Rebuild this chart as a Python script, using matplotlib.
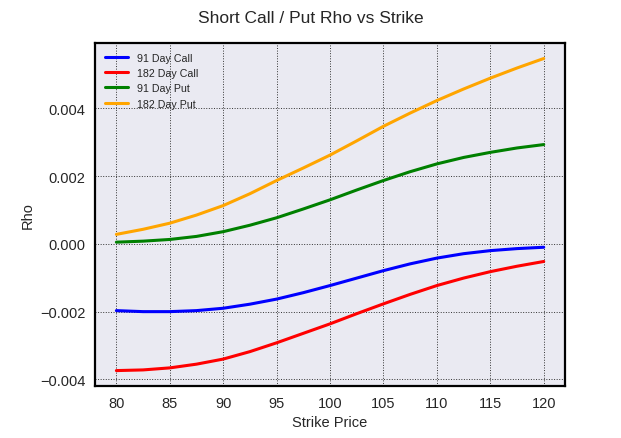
import matplotlib
matplotlib.use("Agg")
import matplotlib.pyplot as plt
import seaborn as sns

strikes = [80, 82.5, 85, 87.5, 90, 92.5, 95, 97.5, 100, 102.5, 105, 107.5, 110, 112.5, 115, 117.5, 120]
call_91 = [-0.00197, -0.00200, -0.00200, -0.00197, -0.00190, -0.00178, -0.00163, -0.00144, -0.00123,
           -0.00101, -0.00079, -0.00059, -0.00042, -0.00029, -0.00020, -0.00014, -0.00010]
call_182 = [-0.00374, -0.00372, -0.00366, -0.00355, -0.00340, -0.00318, -0.00292, -0.00264, -0.00236,
            -0.00206, -0.00177, -0.00149, -0.00123, -0.00101, -0.00082, -0.00066, -0.00052]
put_91 = [0.00005, 0.00008, 0.00013, 0.00022, 0.00036, 0.00055, 0.00077, 0.00103, 0.00130,
          0.00159, 0.00187, 0.00213, 0.00236, 0.00255, 0.00270, 0.00283, 0.00293]
put_182 = [0.00028, 0.00043, 0.00061, 0.00085, 0.00113, 0.00148, 0.00187, 0.00224, 0.00262,
           0.00304, 0.00347, 0.00386, 0.00423, 0.00457, 0.00489, 0.00519, 0.00547]

sns.set_style("darkgrid", {"grid.color": "black", "grid.linestyle": ":",
                           "axes.edgecolor": "black"})
plt.rcParams['font.family'] = ['Liberation Sans', 'DejaVu Sans']

fig, ax = plt.subplots(figsize=(6.21, 4.39), dpi=100)
ax.plot(strikes, call_91, color='blue', lw=2.2, label='91 Day Call')
ax.plot(strikes, call_182, color='red', lw=2.2, label='182 Day Call')
ax.plot(strikes, put_91, color='green', lw=2.2, label='91 Day Put')
ax.plot(strikes, put_182, color='orange', lw=2.2, label='182 Day Put')

ax.grid(True, color='#333333', linestyle=':', linewidth=0.7)
for s in ax.spines.values():
    s.set_visible(True)
    s.set_color('black')
    s.set_linewidth(1.6)

ax.set_xlabel('Strike Price', fontsize=10.5)
ax.set_ylabel('Rho', fontsize=10.5)
ax.tick_params(labelsize=10.5)
ax.set_xticks(range(80, 121, 5))
fig.suptitle('Short Call / Put Rho vs Strike', fontsize=12.5, y=0.975)
ax.legend(loc='upper left', fontsize=7.7, frameon=False, handlelength=2.2)

fig.subplots_adjust(left=0.153, right=0.91, top=0.9, bottom=0.118)
fig.savefig('out.png')
